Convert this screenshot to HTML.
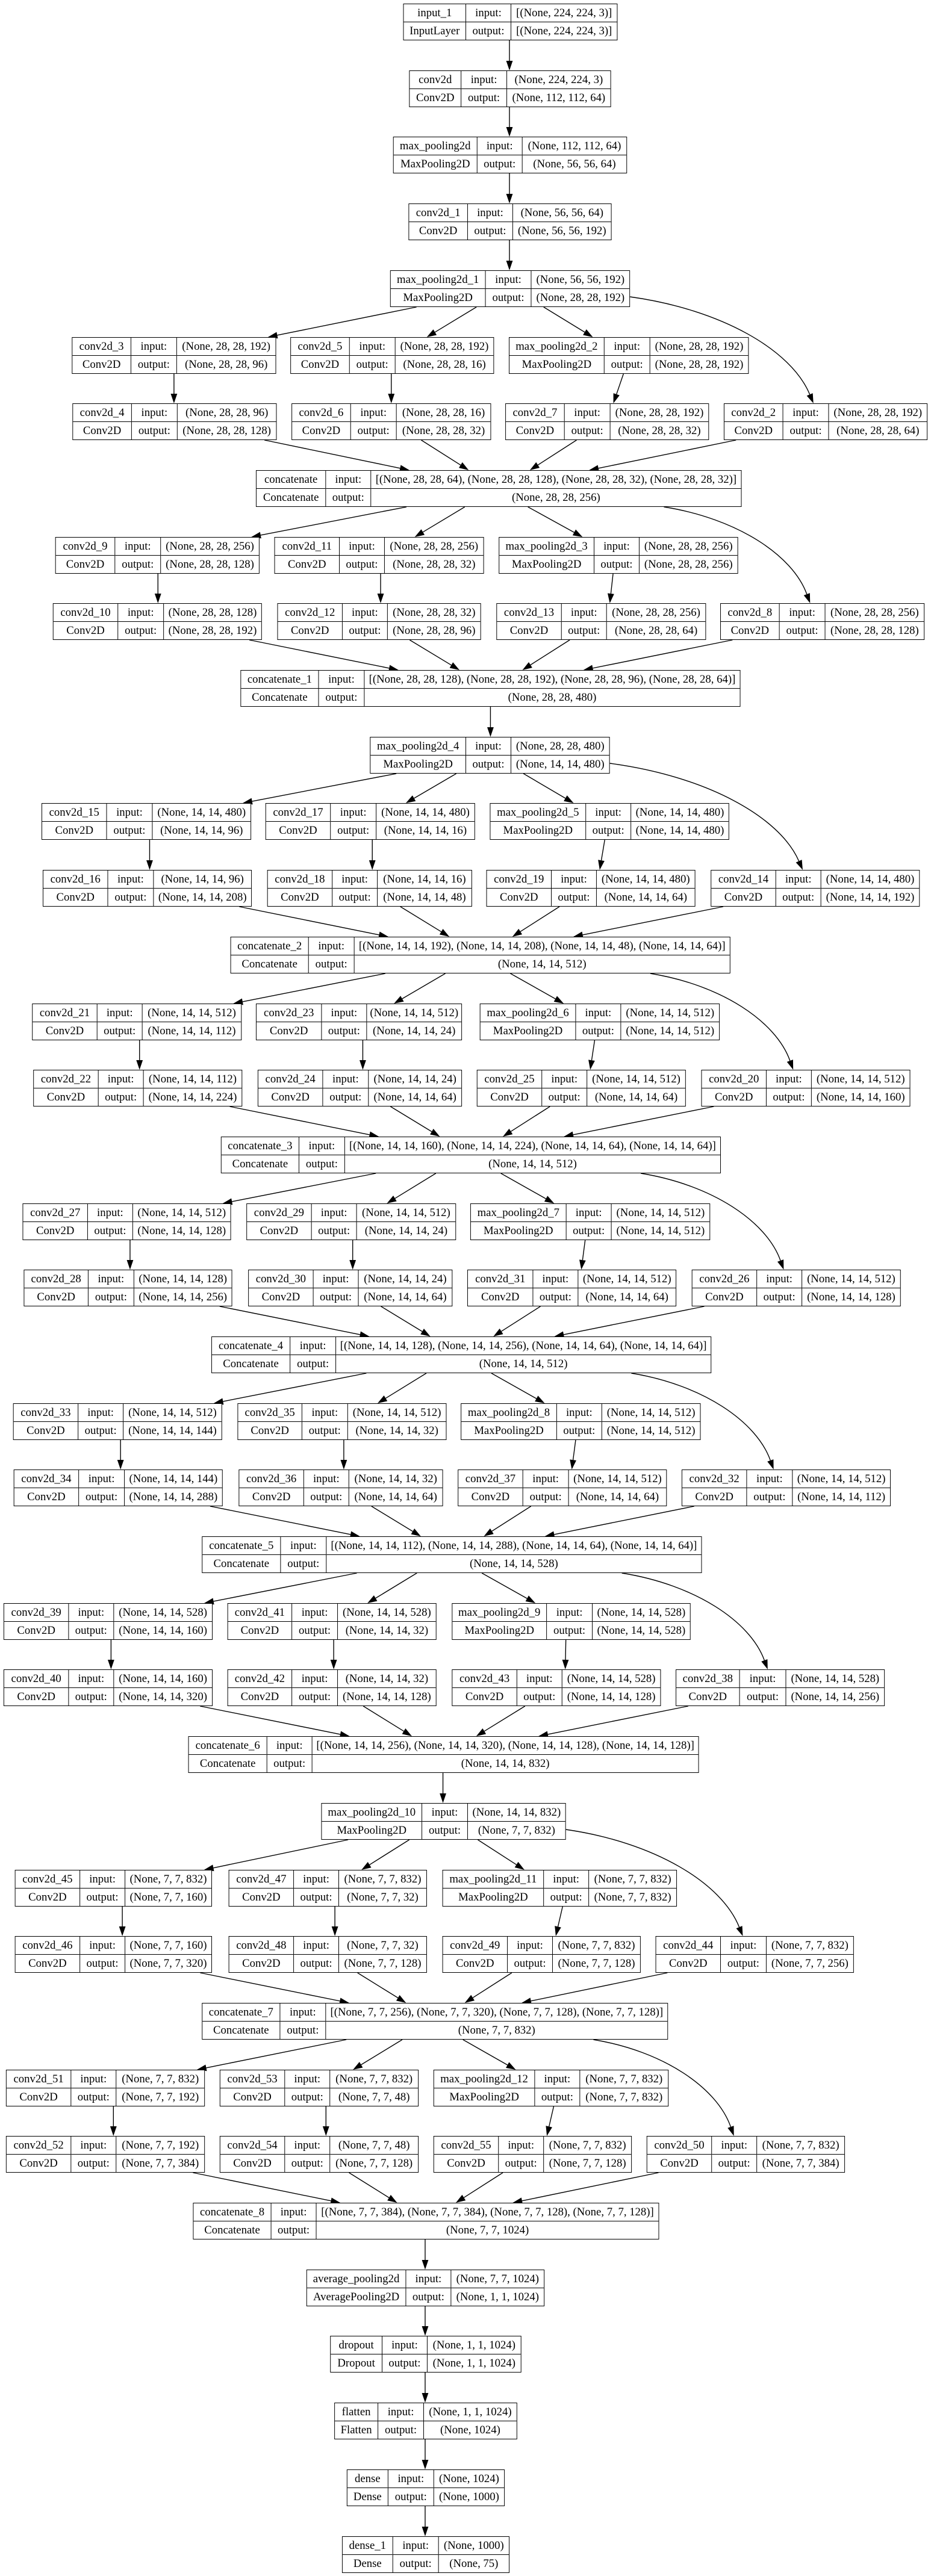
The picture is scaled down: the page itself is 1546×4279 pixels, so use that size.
<!DOCTYPE html>
<html><head><meta charset="utf-8">
<style>
html,body{margin:0;padding:0;background:#fff;}
#wrap{position:relative;width:1568px;height:4279px;transform:scaleX(0.986);transform-origin:0 0;font-family:"Liberation Serif",serif;font-size:19px;color:#000;}
.n{position:absolute;height:61px;display:flex;border:1.3px solid #000;box-sizing:border-box;background:#fff;z-index:2}
.n p{margin:0;display:flex;flex-direction:column;border-left:1px solid #000;flex:none}
.n p:first-child{border-left:none}
.n p.v{flex:1}
.n span{display:block;height:29px;line-height:29px;text-align:center;white-space:nowrap;overflow:visible}
.n span+span{border-top:1px solid #000;height:30px;line-height:30px}
svg{position:absolute;left:0;top:0;z-index:1}
</style></head><body><div id="wrap">
<svg id="edges" width="1568" height="4279"></svg>

<div class="n" style="left:679px;top:6px;width:361px"><p style="width:104px"><span>input_1</span><span>InputLayer</span></p><p style="width:75px"><span>input:</span><span>output:</span></p><p class="v"><span>[(None, 224, 224, 3)]</span><span>[(None, 224, 224, 3)]</span></p></div>
<div class="n" style="left:689px;top:117px;width:340px"><p style="width:86px"><span>conv2d</span><span>Conv2D</span></p><p style="width:76px"><span>input:</span><span>output:</span></p><p class="v"><span>(None, 224, 224, 3)</span><span>(None, 112, 112, 64)</span></p></div>
<div class="n" style="left:662px;top:227px;width:394px"><p style="width:140px"><span>max_pooling2d</span><span>MaxPooling2D</span></p><p style="width:75px"><span>input:</span><span>output:</span></p><p class="v"><span>(None, 112, 112, 64)</span><span>(None, 56, 56, 64)</span></p></div>
<div class="n" style="left:688px;top:338px;width:342px"><p style="width:98px"><span>conv2d_1</span><span>Conv2D</span></p><p style="width:75px"><span>input:</span><span>output:</span></p><p class="v"><span>(None, 56, 56, 64)</span><span>(None, 56, 56, 192)</span></p></div>
<div class="n" style="left:657px;top:449px;width:404px"><p style="width:159px"><span>max_pooling2d_1</span><span>MaxPooling2D</span></p><p style="width:76px"><span>input:</span><span>output:</span></p><p class="v"><span>(None, 56, 56, 192)</span><span>(None, 28, 28, 192)</span></p></div>

<div class="n" style="left:121px;top:560px;width:344px"><p style="width:98px"><span>conv2d_3</span><span>Conv2D</span></p><p style="width:76px"><span>input:</span><span>output:</span></p><p class="v"><span>(None, 28, 28, 192)</span><span>(None, 28, 28, 96)</span></p></div>
<div class="n" style="left:489px;top:560px;width:343px"><p style="width:98px"><span>conv2d_5</span><span>Conv2D</span></p><p style="width:76px"><span>input:</span><span>output:</span></p><p class="v"><span>(None, 28, 28, 192)</span><span>(None, 28, 28, 16)</span></p></div>
<div class="n" style="left:857px;top:560px;width:404px"><p style="width:159px"><span>max_pooling2d_2</span><span>MaxPooling2D</span></p><p style="width:76px"><span>input:</span><span>output:</span></p><p class="v"><span>(None, 28, 28, 192)</span><span>(None, 28, 28, 192)</span></p></div>
<div class="n" style="left:122px;top:670px;width:344px"><p style="width:98px"><span>conv2d_4</span><span>Conv2D</span></p><p style="width:76px"><span>input:</span><span>output:</span></p><p class="v"><span>(None, 28, 28, 96)</span><span>(None, 28, 28, 128)</span></p></div>
<div class="n" style="left:491px;top:670px;width:336px"><p style="width:98px"><span>conv2d_6</span><span>Conv2D</span></p><p style="width:76px"><span>input:</span><span>output:</span></p><p class="v"><span>(None, 28, 28, 16)</span><span>(None, 28, 28, 32)</span></p></div>
<div class="n" style="left:851px;top:670px;width:343px"><p style="width:98px"><span>conv2d_7</span><span>Conv2D</span></p><p style="width:76px"><span>input:</span><span>output:</span></p><p class="v"><span>(None, 28, 28, 192)</span><span>(None, 28, 28, 32)</span></p></div>
<div class="n" style="left:1219px;top:670px;width:343px"><p style="width:98px"><span>conv2d_2</span><span>Conv2D</span></p><p style="width:76px"><span>input:</span><span>output:</span></p><p class="v"><span>(None, 28, 28, 192)</span><span>(None, 28, 28, 64)</span></p></div>
<div class="n" style="left:431px;top:781px;width:818px"><p style="width:116px"><span>concatenate</span><span>Concatenate</span></p><p style="width:75px"><span>input:</span><span>output:</span></p><p class="v"><span>[(None, 28, 28, 64), (None, 28, 28, 128), (None, 28, 28, 32), (None, 28, 28, 32)]</span><span>(None, 28, 28, 256)</span></p></div>

<div class="n" style="left:93px;top:892px;width:344px"><p style="width:99px"><span>conv2d_9</span><span>Conv2D</span></p><p style="width:76px"><span>input:</span><span>output:</span></p><p class="v"><span>(None, 28, 28, 256)</span><span>(None, 28, 28, 128)</span></p></div>
<div class="n" style="left:462px;top:892px;width:353px"><p style="width:108px"><span>conv2d_11</span><span>Conv2D</span></p><p style="width:75px"><span>input:</span><span>output:</span></p><p class="v"><span>(None, 28, 28, 256)</span><span>(None, 28, 28, 32)</span></p></div>
<div class="n" style="left:840px;top:892px;width:403px"><p style="width:159px"><span>max_pooling2d_3</span><span>MaxPooling2D</span></p><p style="width:75px"><span>input:</span><span>output:</span></p><p class="v"><span>(None, 28, 28, 256)</span><span>(None, 28, 28, 256)</span></p></div>
<div class="n" style="left:89px;top:1002px;width:352px"><p style="width:108px"><span>conv2d_10</span><span>Conv2D</span></p><p style="width:76px"><span>input:</span><span>output:</span></p><p class="v"><span>(None, 28, 28, 128)</span><span>(None, 28, 28, 192)</span></p></div>
<div class="n" style="left:467px;top:1002px;width:343px"><p style="width:108px"><span>conv2d_12</span><span>Conv2D</span></p><p style="width:75px"><span>input:</span><span>output:</span></p><p class="v"><span>(None, 28, 28, 32)</span><span>(None, 28, 28, 96)</span></p></div>
<div class="n" style="left:836px;top:1002px;width:353px"><p style="width:108px"><span>conv2d_13</span><span>Conv2D</span></p><p style="width:75px"><span>input:</span><span>output:</span></p><p class="v"><span>(None, 28, 28, 256)</span><span>(None, 28, 28, 64)</span></p></div>
<div class="n" style="left:1213px;top:1002px;width:344px"><p style="width:98px"><span>conv2d_8</span><span>Conv2D</span></p><p style="width:76px"><span>input:</span><span>output:</span></p><p class="v"><span>(None, 28, 28, 256)</span><span>(None, 28, 28, 128)</span></p></div>
<div class="n" style="left:405px;top:1113px;width:842px"><p style="width:130px"><span>concatenate_1</span><span>Concatenate</span></p><p style="width:76px"><span>input:</span><span>output:</span></p><p class="v"><span>[(None, 28, 28, 128), (None, 28, 28, 192), (None, 28, 28, 96), (None, 28, 28, 64)]</span><span>(None, 28, 28, 480)</span></p></div>
<div class="n" style="left:623px;top:1224px;width:404px"><p style="width:160px"><span>max_pooling2d_4</span><span>MaxPooling2D</span></p><p style="width:75px"><span>input:</span><span>output:</span></p><p class="v"><span>(None, 28, 28, 480)</span><span>(None, 14, 14, 480)</span></p></div>

<div class="n" style="left:70px;top:1334px;width:353px"><p style="width:108px"><span>conv2d_15</span><span>Conv2D</span></p><p style="width:76px"><span>input:</span><span>output:</span></p><p class="v"><span>(None, 14, 14, 480)</span><span>(None, 14, 14, 96)</span></p></div>
<div class="n" style="left:447px;top:1334px;width:353px"><p style="width:108px"><span>conv2d_17</span><span>Conv2D</span></p><p style="width:76px"><span>input:</span><span>output:</span></p><p class="v"><span>(None, 14, 14, 480)</span><span>(None, 14, 14, 16)</span></p></div>
<div class="n" style="left:825px;top:1334px;width:403px"><p style="width:160px"><span>max_pooling2d_5</span><span>MaxPooling2D</span></p><p style="width:75px"><span>input:</span><span>output:</span></p><p class="v"><span>(None, 14, 14, 480)</span><span>(None, 14, 14, 480)</span></p></div>
<div class="n" style="left:72px;top:1445px;width:352px"><p style="width:108px"><span>conv2d_16</span><span>Conv2D</span></p><p style="width:76px"><span>input:</span><span>output:</span></p><p class="v"><span>(None, 14, 14, 96)</span><span>(None, 14, 14, 208)</span></p></div>
<div class="n" style="left:450px;top:1445px;width:345px"><p style="width:108px"><span>conv2d_18</span><span>Conv2D</span></p><p style="width:75px"><span>input:</span><span>output:</span></p><p class="v"><span>(None, 14, 14, 16)</span><span>(None, 14, 14, 48)</span></p></div>
<div class="n" style="left:819px;top:1445px;width:352px"><p style="width:108px"><span>conv2d_19</span><span>Conv2D</span></p><p style="width:75px"><span>input:</span><span>output:</span></p><p class="v"><span>(None, 14, 14, 480)</span><span>(None, 14, 14, 64)</span></p></div>
<div class="n" style="left:1197px;top:1445px;width:352px"><p style="width:108px"><span>conv2d_14</span><span>Conv2D</span></p><p style="width:75px"><span>input:</span><span>output:</span></p><p class="v"><span>(None, 14, 14, 480)</span><span>(None, 14, 14, 192)</span></p></div>
<div class="n" style="left:388px;top:1556px;width:842px"><p style="width:130px"><span>concatenate_2</span><span>Concatenate</span></p><p style="width:76px"><span>input:</span><span>output:</span></p><p class="v"><span>[(None, 14, 14, 192), (None, 14, 14, 208), (None, 14, 14, 48), (None, 14, 14, 64)]</span><span>(None, 14, 14, 512)</span></p></div>

<div class="n" style="left:54px;top:1667px;width:353px"><p style="width:108px"><span>conv2d_21</span><span>Conv2D</span></p><p style="width:75px"><span>input:</span><span>output:</span></p><p class="v"><span>(None, 14, 14, 512)</span><span>(None, 14, 14, 112)</span></p></div>
<div class="n" style="left:431px;top:1667px;width:347px"><p style="width:109px"><span>conv2d_23</span><span>Conv2D</span></p><p style="width:75px"><span>input:</span><span>output:</span></p><p class="v"><span>(None, 14, 14, 512)</span><span>(None, 14, 14, 24)</span></p></div>
<div class="n" style="left:808px;top:1667px;width:404px"><p style="width:160px"><span>max_pooling2d_6</span><span>MaxPooling2D</span></p><p style="width:75px"><span>input:</span><span>output:</span></p><p class="v"><span>(None, 14, 14, 512)</span><span>(None, 14, 14, 512)</span></p></div>
<div class="n" style="left:56px;top:1777px;width:352px"><p style="width:108px"><span>conv2d_22</span><span>Conv2D</span></p><p style="width:75px"><span>input:</span><span>output:</span></p><p class="v"><span>(None, 14, 14, 112)</span><span>(None, 14, 14, 224)</span></p></div>
<div class="n" style="left:434px;top:1777px;width:344px"><p style="width:108px"><span>conv2d_24</span><span>Conv2D</span></p><p style="width:76px"><span>input:</span><span>output:</span></p><p class="v"><span>(None, 14, 14, 24)</span><span>(None, 14, 14, 64)</span></p></div>
<div class="n" style="left:803px;top:1777px;width:352px"><p style="width:108px"><span>conv2d_25</span><span>Conv2D</span></p><p style="width:75px"><span>input:</span><span>output:</span></p><p class="v"><span>(None, 14, 14, 512)</span><span>(None, 14, 14, 64)</span></p></div>
<div class="n" style="left:1181px;top:1777px;width:352px"><p style="width:108px"><span>conv2d_20</span><span>Conv2D</span></p><p style="width:75px"><span>input:</span><span>output:</span></p><p class="v"><span>(None, 14, 14, 512)</span><span>(None, 14, 14, 160)</span></p></div>
<div class="n" style="left:372px;top:1888px;width:842px"><p style="width:130px"><span>concatenate_3</span><span>Concatenate</span></p><p style="width:76px"><span>input:</span><span>output:</span></p><p class="v"><span>[(None, 14, 14, 160), (None, 14, 14, 224), (None, 14, 14, 64), (None, 14, 14, 64)]</span><span>(None, 14, 14, 512)</span></p></div>

<div class="n" style="left:38px;top:1999px;width:351px"><p style="width:108px"><span>conv2d_27</span><span>Conv2D</span></p><p style="width:75px"><span>input:</span><span>output:</span></p><p class="v"><span>(None, 14, 14, 512)</span><span>(None, 14, 14, 128)</span></p></div>
<div class="n" style="left:415px;top:1999px;width:353px"><p style="width:108px"><span>conv2d_29</span><span>Conv2D</span></p><p style="width:75px"><span>input:</span><span>output:</span></p><p class="v"><span>(None, 14, 14, 512)</span><span>(None, 14, 14, 24)</span></p></div>
<div class="n" style="left:792px;top:1999px;width:404px"><p style="width:160px"><span>max_pooling2d_7</span><span>MaxPooling2D</span></p><p style="width:75px"><span>input:</span><span>output:</span></p><p class="v"><span>(None, 14, 14, 512)</span><span>(None, 14, 14, 512)</span></p></div>
<div class="n" style="left:40px;top:2109px;width:351px"><p style="width:107px"><span>conv2d_28</span><span>Conv2D</span></p><p style="width:76px"><span>input:</span><span>output:</span></p><p class="v"><span>(None, 14, 14, 128)</span><span>(None, 14, 14, 256)</span></p></div>
<div class="n" style="left:418px;top:2109px;width:344px"><p style="width:108px"><span>conv2d_30</span><span>Conv2D</span></p><p style="width:75px"><span>input:</span><span>output:</span></p><p class="v"><span>(None, 14, 14, 24)</span><span>(None, 14, 14, 64)</span></p></div>
<div class="n" style="left:787px;top:2109px;width:352px"><p style="width:109px"><span>conv2d_31</span><span>Conv2D</span></p><p style="width:75px"><span>input:</span><span>output:</span></p><p class="v"><span>(None, 14, 14, 512)</span><span>(None, 14, 14, 64)</span></p></div>
<div class="n" style="left:1165px;top:2109px;width:352px"><p style="width:108px"><span>conv2d_26</span><span>Conv2D</span></p><p style="width:75px"><span>input:</span><span>output:</span></p><p class="v"><span>(None, 14, 14, 512)</span><span>(None, 14, 14, 128)</span></p></div>
<div class="n" style="left:356px;top:2220px;width:842px"><p style="width:131px"><span>concatenate_4</span><span>Concatenate</span></p><p style="width:76px"><span>input:</span><span>output:</span></p><p class="v"><span>[(None, 14, 14, 128), (None, 14, 14, 256), (None, 14, 14, 64), (None, 14, 14, 64)]</span><span>(None, 14, 14, 512)</span></p></div>

<div class="n" style="left:22px;top:2331px;width:352px"><p style="width:108px"><span>conv2d_33</span><span>Conv2D</span></p><p style="width:75px"><span>input:</span><span>output:</span></p><p class="v"><span>(None, 14, 14, 512)</span><span>(None, 14, 14, 144)</span></p></div>
<div class="n" style="left:400px;top:2331px;width:352px"><p style="width:107px"><span>conv2d_35</span><span>Conv2D</span></p><p style="width:76px"><span>input:</span><span>output:</span></p><p class="v"><span>(None, 14, 14, 512)</span><span>(None, 14, 14, 32)</span></p></div>
<div class="n" style="left:776px;top:2331px;width:404px"><p style="width:160px"><span>max_pooling2d_8</span><span>MaxPooling2D</span></p><p style="width:75px"><span>input:</span><span>output:</span></p><p class="v"><span>(None, 14, 14, 512)</span><span>(None, 14, 14, 512)</span></p></div>
<div class="n" style="left:23px;top:2441px;width:352px"><p style="width:108px"><span>conv2d_34</span><span>Conv2D</span></p><p style="width:76px"><span>input:</span><span>output:</span></p><p class="v"><span>(None, 14, 14, 144)</span><span>(None, 14, 14, 288)</span></p></div>
<div class="n" style="left:402px;top:2441px;width:344px"><p style="width:108px"><span>conv2d_36</span><span>Conv2D</span></p><p style="width:75px"><span>input:</span><span>output:</span></p><p class="v"><span>(None, 14, 14, 32)</span><span>(None, 14, 14, 64)</span></p></div>
<div class="n" style="left:771px;top:2441px;width:352px"><p style="width:108px"><span>conv2d_37</span><span>Conv2D</span></p><p style="width:76px"><span>input:</span><span>output:</span></p><p class="v"><span>(None, 14, 14, 512)</span><span>(None, 14, 14, 64)</span></p></div>
<div class="n" style="left:1148px;top:2441px;width:352px"><p style="width:108px"><span>conv2d_32</span><span>Conv2D</span></p><p style="width:76px"><span>input:</span><span>output:</span></p><p class="v"><span>(None, 14, 14, 512)</span><span>(None, 14, 14, 112)</span></p></div>
<div class="n" style="left:340px;top:2552px;width:842px"><p style="width:131px"><span>concatenate_5</span><span>Concatenate</span></p><p style="width:76px"><span>input:</span><span>output:</span></p><p class="v"><span>[(None, 14, 14, 112), (None, 14, 14, 288), (None, 14, 14, 64), (None, 14, 14, 64)]</span><span>(None, 14, 14, 528)</span></p></div>

<div class="n" style="left:6px;top:2663px;width:352px"><p style="width:108px"><span>conv2d_39</span><span>Conv2D</span></p><p style="width:75px"><span>input:</span><span>output:</span></p><p class="v"><span>(None, 14, 14, 528)</span><span>(None, 14, 14, 160)</span></p></div>
<div class="n" style="left:383px;top:2663px;width:352px"><p style="width:107px"><span>conv2d_41</span><span>Conv2D</span></p><p style="width:76px"><span>input:</span><span>output:</span></p><p class="v"><span>(None, 14, 14, 528)</span><span>(None, 14, 14, 32)</span></p></div>
<div class="n" style="left:761px;top:2663px;width:402px"><p style="width:158px"><span>max_pooling2d_9</span><span>MaxPooling2D</span></p><p style="width:76px"><span>input:</span><span>output:</span></p><p class="v"><span>(None, 14, 14, 528)</span><span>(None, 14, 14, 528)</span></p></div>
<div class="n" style="left:6px;top:2773px;width:352px"><p style="width:108px"><span>conv2d_40</span><span>Conv2D</span></p><p style="width:75px"><span>input:</span><span>output:</span></p><p class="v"><span>(None, 14, 14, 160)</span><span>(None, 14, 14, 320)</span></p></div>
<div class="n" style="left:383px;top:2773px;width:352px"><p style="width:107px"><span>conv2d_42</span><span>Conv2D</span></p><p style="width:76px"><span>input:</span><span>output:</span></p><p class="v"><span>(None, 14, 14, 32)</span><span>(None, 14, 14, 128)</span></p></div>
<div class="n" style="left:761px;top:2773px;width:352px"><p style="width:108px"><span>conv2d_43</span><span>Conv2D</span></p><p style="width:75px"><span>input:</span><span>output:</span></p><p class="v"><span>(None, 14, 14, 528)</span><span>(None, 14, 14, 128)</span></p></div>
<div class="n" style="left:1138px;top:2773px;width:352px"><p style="width:106px"><span>conv2d_38</span><span>Conv2D</span></p><p style="width:77px"><span>input:</span><span>output:</span></p><p class="v"><span>(None, 14, 14, 528)</span><span>(None, 14, 14, 256)</span></p></div>
<div class="n" style="left:317px;top:2884px;width:860px"><p style="width:131px"><span>concatenate_6</span><span>Concatenate</span></p><p style="width:75px"><span>input:</span><span>output:</span></p><p class="v"><span>[(None, 14, 14, 256), (None, 14, 14, 320), (None, 14, 14, 128), (None, 14, 14, 128)]</span><span>(None, 14, 14, 832)</span></p></div>
<div class="n" style="left:541px;top:2995px;width:412px"><p style="width:168px"><span>max_pooling2d_10</span><span>MaxPooling2D</span></p><p style="width:76px"><span>input:</span><span>output:</span></p><p class="v"><span>(None, 14, 14, 832)</span><span>(None, 7, 7, 832)</span></p></div>

<div class="n" style="left:25px;top:3106px;width:332px"><p style="width:108px"><span>conv2d_45</span><span>Conv2D</span></p><p style="width:75px"><span>input:</span><span>output:</span></p><p class="v"><span>(None, 7, 7, 832)</span><span>(None, 7, 7, 160)</span></p></div>
<div class="n" style="left:385px;top:3106px;width:334px"><p style="width:108px"><span>conv2d_47</span><span>Conv2D</span></p><p style="width:75px"><span>input:</span><span>output:</span></p><p class="v"><span>(None, 7, 7, 832)</span><span>(None, 7, 7, 32)</span></p></div>
<div class="n" style="left:745px;top:3106px;width:395px"><p style="width:169px"><span>max_pooling2d_11</span><span>MaxPooling2D</span></p><p style="width:75px"><span>input:</span><span>output:</span></p><p class="v"><span>(None, 7, 7, 832)</span><span>(None, 7, 7, 832)</span></p></div>
<div class="n" style="left:25px;top:3216px;width:332px"><p style="width:108px"><span>conv2d_46</span><span>Conv2D</span></p><p style="width:75px"><span>input:</span><span>output:</span></p><p class="v"><span>(None, 7, 7, 160)</span><span>(None, 7, 7, 320)</span></p></div>
<div class="n" style="left:385px;top:3216px;width:334px"><p style="width:108px"><span>conv2d_48</span><span>Conv2D</span></p><p style="width:75px"><span>input:</span><span>output:</span></p><p class="v"><span>(None, 7, 7, 32)</span><span>(None, 7, 7, 128)</span></p></div>
<div class="n" style="left:745px;top:3216px;width:334px"><p style="width:108px"><span>conv2d_49</span><span>Conv2D</span></p><p style="width:75px"><span>input:</span><span>output:</span></p><p class="v"><span>(None, 7, 7, 832)</span><span>(None, 7, 7, 128)</span></p></div>
<div class="n" style="left:1104px;top:3216px;width:334px"><p style="width:108px"><span>conv2d_44</span><span>Conv2D</span></p><p style="width:76px"><span>input:</span><span>output:</span></p><p class="v"><span>(None, 7, 7, 832)</span><span>(None, 7, 7, 256)</span></p></div>
<div class="n" style="left:340px;top:3327px;width:785px"><p style="width:130px"><span>concatenate_7</span><span>Concatenate</span></p><p style="width:76px"><span>input:</span><span>output:</span></p><p class="v"><span>[(None, 7, 7, 256), (None, 7, 7, 320), (None, 7, 7, 128), (None, 7, 7, 128)]</span><span>(None, 7, 7, 832)</span></p></div>

<div class="n" style="left:10px;top:3438px;width:335px"><p style="width:108px"><span>conv2d_51</span><span>Conv2D</span></p><p style="width:75px"><span>input:</span><span>output:</span></p><p class="v"><span>(None, 7, 7, 832)</span><span>(None, 7, 7, 192)</span></p></div>
<div class="n" style="left:370px;top:3438px;width:335px"><p style="width:108px"><span>conv2d_53</span><span>Conv2D</span></p><p style="width:75px"><span>input:</span><span>output:</span></p><p class="v"><span>(None, 7, 7, 832)</span><span>(None, 7, 7, 48)</span></p></div>
<div class="n" style="left:730px;top:3438px;width:396px"><p style="width:169px"><span>max_pooling2d_12</span><span>MaxPooling2D</span></p><p style="width:75px"><span>input:</span><span>output:</span></p><p class="v"><span>(None, 7, 7, 832)</span><span>(None, 7, 7, 832)</span></p></div>
<div class="n" style="left:10px;top:3548px;width:335px"><p style="width:108px"><span>conv2d_52</span><span>Conv2D</span></p><p style="width:75px"><span>input:</span><span>output:</span></p><p class="v"><span>(None, 7, 7, 192)</span><span>(None, 7, 7, 384)</span></p></div>
<div class="n" style="left:370px;top:3548px;width:335px"><p style="width:108px"><span>conv2d_54</span><span>Conv2D</span></p><p style="width:75px"><span>input:</span><span>output:</span></p><p class="v"><span>(None, 7, 7, 48)</span><span>(None, 7, 7, 128)</span></p></div>
<div class="n" style="left:730px;top:3548px;width:334px"><p style="width:108px"><span>conv2d_55</span><span>Conv2D</span></p><p style="width:75px"><span>input:</span><span>output:</span></p><p class="v"><span>(None, 7, 7, 832)</span><span>(None, 7, 7, 128)</span></p></div>
<div class="n" style="left:1089px;top:3548px;width:334px"><p style="width:108px"><span>conv2d_50</span><span>Conv2D</span></p><p style="width:75px"><span>input:</span><span>output:</span></p><p class="v"><span>(None, 7, 7, 832)</span><span>(None, 7, 7, 384)</span></p></div>
<div class="n" style="left:325px;top:3659px;width:785px"><p style="width:130px"><span>concatenate_8</span><span>Concatenate</span></p><p style="width:75px"><span>input:</span><span>output:</span></p><p class="v"><span>[(None, 7, 7, 384), (None, 7, 7, 384), (None, 7, 7, 128), (None, 7, 7, 128)]</span><span>(None, 7, 7, 1024)</span></p></div>

<div class="n" style="left:516px;top:3770px;width:401px"><p style="width:166px"><span>average_pooling2d</span><span>AveragePooling2D</span></p><p style="width:75px"><span>input:</span><span>output:</span></p><p class="v"><span>(None, 7, 7, 1024)</span><span>(None, 1, 1, 1024)</span></p></div>
<div class="n" style="left:556px;top:3880px;width:322px"><p style="width:86px"><span>dropout</span><span>Dropout</span></p><p style="width:75px"><span>input:</span><span>output:</span></p><p class="v"><span>(None, 1, 1, 1024)</span><span>(None, 1, 1, 1024)</span></p></div>
<div class="n" style="left:563px;top:3991px;width:308px"><p style="width:72px"><span>flatten</span><span>Flatten</span></p><p style="width:76px"><span>input:</span><span>output:</span></p><p class="v"><span>(None, 1, 1, 1024)</span><span>(None, 1024)</span></p></div>
<div class="n" style="left:584px;top:4102px;width:266px"><p style="width:68px"><span>dense</span><span>Dense</span></p><p style="width:76px"><span>input:</span><span>output:</span></p><p class="v"><span>(None, 1024)</span><span>(None, 1000)</span></p></div>
<div class="n" style="left:576px;top:4213px;width:282px"><p style="width:84px"><span>dense_1</span><span>Dense</span></p><p style="width:76px"><span>input:</span><span>output:</span></p><p class="v"><span>(None, 1000)</span><span>(None, 75)</span></p></div>

</div>
<script>
(function(){
var els=document.querySelectorAll('.n'),N=[];
for(var i=0;i<els.length;i++){var e=els[i],ps=e.querySelectorAll('p');
var L=parseFloat(e.style.left),T=parseFloat(e.style.top),W=parseFloat(e.style.width);
var a=parseFloat(ps[0].style.width),b=parseFloat(ps[1].style.width);
N.push({L:L,T:T,W:W,B:T+61,R:L+W,d1:L+a,d2:L+a+b});}
var svg=document.getElementById('edges'),out='';
function head(x,y,ux,uy){var px=-uy,py=ux,bx=x-ux*16,by=y-uy*16;
out+='<polygon points="'+x+','+y+' '+(bx+px*5.5)+','+(by+py*5.5)+' '+(bx-px*5.5)+','+(by-py*5.5)+'" fill="#000"/>';return [bx,by];}
function line(x1,y1,x2,y2){var dx=x2-x1,dy=y2-y1,l=Math.sqrt(dx*dx+dy*dy),ux=dx/l,uy=dy/l;var b=head(x2,y2,ux,uy);
out+='<path d="M'+x1+' '+y1+'L'+b[0]+' '+b[1]+'" stroke="#000" stroke-width="1.4" fill="none"/>';}
function curve(x0,y0,x3,y3){var dx=x3-x0,dy=y3-y0;var c1x=x0+0.5*dx,c1y=y0+0.12*dy,c2x=x3-0.12*dx,c2y=y3-0.5*dy;
var tx=x3-c2x,ty=y3-c2y,l=Math.sqrt(tx*tx+ty*ty);var b=head(x3,y3,tx/l,ty/l);
out+='<path d="M'+x0+' '+y0+'C'+c1x+' '+c1y+' '+c2x+' '+c2y+' '+b[0]+' '+b[1]+'" stroke="#000" stroke-width="1.4" fill="none"/>';}
var blocks=[[4,5,6,7,8,9,10,11,12],[12,13,14,15,16,17,18,19,20],[21,22,23,24,25,26,27,28,29],[29,30,31,32,33,34,35,36,37],[37,38,39,40,41,42,43,44,45],[45,46,47,48,49,50,51,52,53],[53,54,55,56,57,58,59,60,61],[62,63,64,65,66,67,68,69,70],[70,71,72,73,74,75,76,77,78]];
blocks.forEach(function(k){var S=N[k[0]],A1=N[k[1]],A2=N[k[2]],A3=N[k[3]],B1=N[k[4]],B2=N[k[5]],B3=N[k[6]],B4=N[k[7]],C=N[k[8]];
var conc=S.W>600;var f=conc?[0.31,0.43,0.56]:[0.11,0.36,0.64];
line(S.L+f[0]*S.W,S.B,A1.L+0.96*A1.W,A1.T);
line(S.L+f[1]*S.W,S.B,A2.L+0.67*A2.W,A2.T);
line(S.L+f[2]*S.W,S.B,A3.L+0.35*A3.W,A3.T);
if(conc)curve(S.L+0.84*S.W,S.B,B4.L+0.44*B4.W,B4.T);else curve(S.R,S.T+44,B4.L+0.44*B4.W,B4.T);
line(A1.d2-2,A1.B,A1.d2-2,B1.T);
line(A2.d2-4,A2.B,A2.d2-4,B2.T);
line((A3.d1+A3.d2)/2-4,A3.B,B3.d2+8,B3.T);
var g=[0.316,0.438,0.564,0.686];
line(B1.L+0.94*B1.W,B1.B,C.L+g[0]*C.W,C.T);
line(B2.L+0.65*B2.W,B2.B,C.L+g[1]*C.W,C.T);
line(B3.L+0.35*B3.W,B3.B,C.L+g[2]*C.W,C.T);
line(B4.L+0.06*B4.W,B4.B,C.L+g[3]*C.W,C.T);});
function ch(a,b,x){line(x,N[a].B,x,N[b].T);}
ch(0,1,858);ch(1,2,858);ch(2,3,858);ch(3,4,858);ch(20,21,826);ch(61,62,746);
ch(78,79,716);ch(79,80,716);ch(80,81,716);ch(81,82,716);ch(82,83,716);
svg.innerHTML=out;})();
</script>
</body></html>
